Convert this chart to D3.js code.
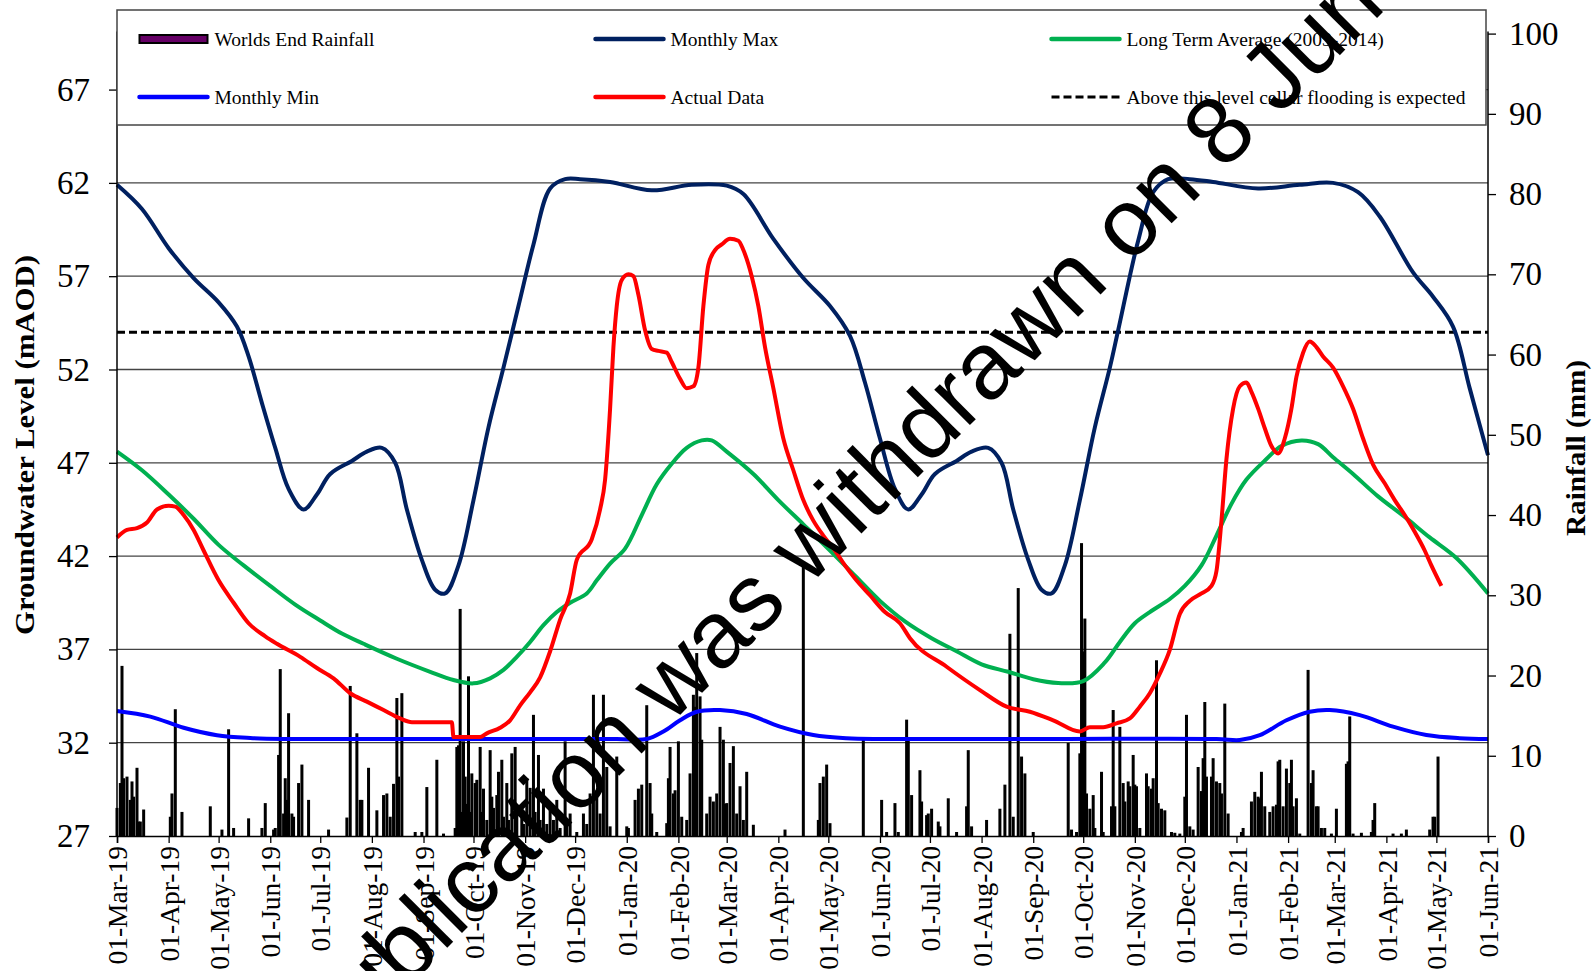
<!DOCTYPE html>
<html><head><meta charset="utf-8">
<script src="https://cdn.jsdelivr.net/npm/d3@7"></script>
<style>body{margin:0;background:#fff}svg{display:block}</style>
</head><body>
<svg id="c" width="1596" height="971"></svg>
<script>
// ---------- DATA ----------
const startDate = "2019-03-01";
const endDate = "2021-06-01";
const leftTicks = [27, 32, 37, 42, 47, 52, 57, 62, 67];
const rightTicks = [0, 10, 20, 30, 40, 50, 60, 70, 80, 90, 100];
const floodLevel = 54;

// days since 2019-03-01
const maxDay = [0,15,31,46,61,72,79,87,95,103,112,120,128,141,150,159,167,174,183,191,197,205,214,223,232,241,250,260,269,278,296,321,345,366,376,394,412,428,440,449,458,467,475,483,491,504,513,523,531,538,547,555,561,569,578,587,596,601,613,622,631,644,658,685,710,730,745,758,778,790,802,812,823];
const maxVal = [61.9,60.6,58.5,56.9,55.6,54.3,52.7,50.2,47.8,45.6,44.5,45.3,46.4,47.1,47.6,47.8,47.0,44.5,41.8,40.2,40.0,41.5,45.0,48.9,52.1,55.4,58.7,61.7,62.2,62.2,62.05,61.6,61.9,61.85,61.4,59.0,56.9,55.4,53.8,51.3,48.3,45.6,44.5,45.3,46.4,47.1,47.6,47.8,47.0,44.5,41.8,40.2,40.0,41.5,45.0,48.9,52.1,54.1,58.9,61.5,62.2,62.2,62.05,61.7,61.9,62.0,61.5,60.2,57.2,55.9,54.3,51.0,47.4];

const minDay = [0,20,40,60,80,100,200,300,318,328,338,348,362,378,398,418,438,460,560,660,674,686,702,716,728,746,766,786,806,823];
const minVal = [33.7,33.4,32.8,32.4,32.25,32.2,32.2,32.2,32.2,32.6,33.2,33.66,33.75,33.54,32.86,32.41,32.24,32.2,32.2,32.2,32.14,32.4,33.2,33.66,33.75,33.48,32.86,32.41,32.24,32.2];

const avgDay = [0,15,31,46,61,76,92,107,122,135,148,168,188,202,214,224,232,240,248,256,264,272,282,288,296,305,315,324,333,342,351,357,366,382,397,412,428,443,458,473,489,504,519,535,550,565,580,593,602,611,620,632,641,651,660,669,678,690,699,711,721,730,742,757,773,788,804,823];
const avgVal = [47.6,46.6,45.3,44.0,42.6,41.5,40.4,39.4,38.55,37.85,37.3,36.5,35.8,35.36,35.18,35.45,35.9,36.6,37.4,38.3,39.0,39.5,40.0,40.7,41.6,42.4,44.2,45.85,46.95,47.8,48.2,48.2,47.6,46.4,45.0,43.7,42.3,40.95,39.6,38.5,37.6,36.9,36.2,35.8,35.4,35.2,35.3,36.3,37.4,38.4,39.0,39.7,40.4,41.5,43.1,44.8,46.1,47.2,47.9,48.2,48.0,47.3,46.4,45.2,44.1,43.0,41.9,40.0];

const actDay = [0,6,12,18,24,31,35,40,46,52,61,70,79,89,96,110,120,130,140,150,160,170,177,201,202,218,222,230,236,242,248,254,260,266,272,276,285,290,293,296,298,300,303,307,310,313,317,321,325,330,333,338,342,346,349,352,355,359,363,368,373,376,381,385,389,394,400,406,412,418,424,431,437,443,452,461,470,476,498,518,534,548,562,578,584,592,600,608,614,620,626,632,638,644,651,657,660,663,666,670,674,678,681,685,689,693,697,701,705,708,712,716,720,724,730,736,742,748,754,761,767,773,779,785,789,795];
const actVal = [43.0,43.4,43.5,43.8,44.5,44.7,44.65,44.2,43.4,42.3,40.7,39.5,38.4,37.7,37.3,36.6,36.0,35.45,34.65,34.2,33.75,33.3,33.1,33.1,32.3,32.3,32.5,32.8,33.2,34.0,34.7,35.5,36.9,38.6,40.0,41.8,42.9,44.5,46.1,49.9,53.2,55.4,56.8,57.1,57.0,56.0,54.1,53.1,53.0,52.9,52.4,51.5,51.0,51.1,52.1,55.4,57.6,58.4,58.7,59.0,58.9,58.4,57.0,55.4,53.2,51.0,48.3,46.6,45.0,43.9,43.1,42.3,41.5,40.8,39.9,39.0,38.4,37.6,36.07,34.82,33.93,33.66,33.2,32.6,32.83,32.83,33.04,33.3,33.93,34.65,35.7,36.97,38.9,39.6,40.0,40.4,41.2,43.9,47.2,49.9,51.1,51.3,50.8,49.9,48.85,47.9,47.5,48.3,49.9,51.6,52.9,53.5,53.2,52.7,52.1,51.1,49.9,48.3,46.9,45.9,45.0,44.2,43.3,42.3,41.5,40.4];

const rainDay = [0,2,3,4,6,8,9,10,12,13,14,16,32,33,35,39,56,63,67,70,79,87,89,94,95,97,98,100,101,102,103,105,106,109,111,115,127,138,140,144,146,147,151,156,160,162,164,166,168,169,171,179,183,186,192,196,203,204,205,206,207,208,209,210,211,212,213,215,216,218,219,220,222,224,225,226,228,229,231,232,234,235,237,239,240,243,244,246,248,250,251,253,254,256,258,260,262,264,266,269,270,272,276,280,282,284,286,288,290,292,294,296,300,306,307,311,313,315,318,320,321,324,330,331,332,334,335,337,339,342,344,346,347,348,350,351,354,356,358,360,362,364,365,366,368,370,372,374,376,378,382,401,412,421,422,424,426,428,448,459,462,467,469,474,475,477,482,483,486,487,489,493,494,499,504,510,511,513,522,530,533,536,538,541,543,545,550,571,573,576,578,579,580,581,582,584,586,587,591,592,597,598,599,602,604,605,607,608,610,611,612,614,618,619,621,622,624,625,627,629,633,635,638,641,642,644,646,649,651,652,653,654,657,658,660,662,663,665,667,675,676,681,683,685,686,687,689,692,694,696,697,698,700,702,704,705,706,708,710,715,717,718,720,721,723,725,729,732,738,739,740,742,747,753,754,755,766,771,774,788,790,791,793];
const rainMm = [3.5,6.6,21.2,7.2,7.4,4.5,6.8,4.9,8.5,1.8,1.8,3.3,2.4,5.3,15.8,3.0,3.7,0.8,13.3,1.0,2.2,1.0,4.1,0.8,1.0,10.1,20.8,2.8,7.2,4.5,15.3,2.8,2.4,6.6,8.9,4.5,0.8,2.3,18.7,12.8,4.5,4.5,8.5,3.2,5.1,5.3,2.4,6.5,17.2,7.4,17.8,0.5,0.5,6.1,9.5,0.3,1.0,11.1,11.3,28.3,3.0,11.8,7.4,4.0,19.9,3.0,7.8,6.6,7.0,11.1,3.0,5.9,2.0,10.7,4.9,3.5,5.1,8.0,9.5,2.4,6.6,2.0,10.3,11.1,3.0,3.4,1.5,7.2,6.0,15.1,3.0,10.1,2.0,5.9,1.5,3.2,2.0,4.5,1.0,11.8,1.2,2.8,0.5,2.8,1.5,5.3,17.6,5.7,2.8,17.6,8.6,1.2,9.9,1.2,1.0,4.5,5.9,6.4,16.3,6.6,2.8,0.5,1.6,7.2,11.1,5.3,5.7,11.8,2.4,2.0,7.8,17.6,16.1,22.8,17.4,12.0,2.8,4.9,4.3,5.3,13.6,12.0,4.0,4.1,9.1,11.2,2.8,6.2,2.0,8.0,1.4,0.8,34.0,2.0,6.6,7.4,8.9,1.6,12.0,4.5,0.5,4.1,0.5,14.5,12.0,5.1,8.2,4.3,2.6,2.8,3.4,1.8,1.2,4.7,0.5,3.7,10.7,1.2,2.0,3.4,6.4,25.2,2.4,30.9,9.9,7.8,0.5,11.6,0.8,0.5,10.3,36.5,23.0,27.1,5.3,3.4,5.1,1.0,8.0,0.5,3.7,15.7,3.7,13.6,6.6,4.3,6.8,6.2,10.1,6.4,6.2,1.0,7.8,6.2,5.9,7.2,21.9,4.1,3.4,3.2,0.5,0.4,0.3,4.9,15.1,1.2,0.8,8.6,5.6,9.7,16.7,7.4,7.4,9.7,6.8,6.6,5.3,16.5,2.8,0.5,1.0,4.3,5.5,4.9,4.7,8.0,3.7,3.0,3.7,3.9,9.3,9.5,3.7,8.4,6.6,9.5,3.7,4.7,0.3,20.7,6.6,8.2,3.7,3.7,1.0,1.0,0.3,3.4,9.0,9.3,14.9,0.3,0.4,0.5,2.0,4.1,0.3,0.3,0.8,0.8,2.4,2.4,9.9];

const legendItems = [
  {label: "Worlds End Rainfall", type: "bar", color: "#660066"},
  {label: "Monthly Max", type: "line", color: "#002060"},
  {label: "Long Term Average (2003-2014)", type: "line", color: "#00B050"},
  {label: "Monthly Min", type: "line", color: "#0000FF"},
  {label: "Actual Data", type: "line", color: "#FF0000"},
  {label: "Above this level cellar flooding is expected", type: "dash", color: "#000000"}
];
const watermark = "This publication was withdrawn on 8 June 2023";

// ---------- CHART ----------
const svg = d3.select("#c");
const L = 117, R = 1488, T = 33.6, B = 836;
const serif = "'Liberation Serif','Times New Roman',serif";
const t0 = new Date(startDate + "T00:00:00Z");
const toDate = d => new Date(t0.getTime() + d * 864e5);

const x = d3.scaleUtc().domain([t0, new Date(endDate + "T00:00:00Z")]).range([L, R]);
const yL = d3.scaleLinear().domain([27, 70]).range([B, T]);
const yR = d3.scaleLinear().domain([0, 100]).range([B, T]);

svg.append("rect").attr("width", 1596).attr("height", 971).attr("fill", "#fff");

// gridlines
svg.append("g").selectAll("line").data(leftTicks.slice(1)).join("line")
  .attr("x1", L).attr("x2", R).attr("y1", d => yL(d)).attr("y2", d => yL(d))
  .attr("stroke", "#444").attr("stroke-width", 1.3);

// rainfall bars
const rain = rainDay.map((d, i) => ({date: toDate(d), mm: rainMm[i]}));
svg.append("g").selectAll("rect").data(rain).join("rect")
  .attr("x", d => x(d.date) - 1.5).attr("width", 3)
  .attr("y", d => yR(d.mm)).attr("height", d => B - yR(d.mm))
  .attr("fill", "#000");

// lines
function series(days, vals) { return days.map((d, i) => ({date: toDate(d), v: vals[i]})); }
const lineSmooth = d3.line().x(d => x(d.date)).y(d => yL(d.v)).curve(d3.curveCatmullRom.alpha(0.5));
const lineMono = d3.line().x(d => x(d.date)).y(d => yL(d.v)).curve(d3.curveMonotoneX);

svg.append("line").attr("x1", L).attr("x2", R).attr("y1", yL(floodLevel)).attr("y2", yL(floodLevel))
  .attr("stroke", "#000").attr("stroke-width", 3).attr("stroke-dasharray", "8,4");

svg.append("path").datum(series(avgDay, avgVal)).attr("d", lineSmooth)
  .attr("fill", "none").attr("stroke", "#00B050").attr("stroke-width", 4);
svg.append("path").datum(series(minDay, minVal)).attr("d", lineSmooth)
  .attr("fill", "none").attr("stroke", "#0000FF").attr("stroke-width", 4);
svg.append("path").datum(series(maxDay, maxVal)).attr("d", lineSmooth)
  .attr("fill", "none").attr("stroke", "#002060").attr("stroke-width", 4);
svg.append("path").datum(series(actDay, actVal)).attr("d", lineMono)
  .attr("fill", "none").attr("stroke", "#FF0000").attr("stroke-width", 4).attr("stroke-linejoin", "round");

// axes
const ax = svg.append("g").attr("transform", `translate(0,${B})`)
  .call(d3.axisBottom(x).tickValues(d3.utcMonth.range(t0, new Date(Date.UTC(2021, 5, 2))))
    .tickSize(7).tickFormat(d3.utcFormat("%d-%b-%y")));
ax.select(".domain").attr("stroke", "#000").attr("stroke-width", 1.5);
ax.selectAll(".tick line").attr("stroke", "#000").attr("stroke-width", 1.3);
ax.selectAll("text").attr("font-family", serif).attr("font-size", 27.5).attr("fill", "#000")
  .attr("text-anchor", "end").attr("transform", "translate(0,10) rotate(-90)")
  .attr("x", 0).attr("y", 0).attr("dy", "0.35em");

const al = svg.append("g").attr("transform", `translate(${L},0)`)
  .call(d3.axisLeft(yL).tickValues(leftTicks).tickSize(8).tickPadding(19));
al.select(".domain").attr("stroke", "#000").attr("stroke-width", 1.5).attr("d", `M-0,${B}V${T-2}`);
al.selectAll(".tick line").attr("stroke", "#000").attr("stroke-width", 1.3);
al.selectAll("text").attr("font-family", serif).attr("font-size", 33).attr("fill", "#000");

const ar = svg.append("g").attr("transform", `translate(${R},0)`)
  .call(d3.axisRight(yR).tickValues(rightTicks).tickSize(8).tickPadding(13));
ar.select(".domain").attr("stroke", "#000").attr("stroke-width", 1.5).attr("d", `M0,${B}V${T-2}`);
ar.selectAll(".tick line").attr("stroke", "#000").attr("stroke-width", 1.3);
ar.selectAll("text").attr("font-family", serif).attr("font-size", 33).attr("fill", "#000");

// axis titles
svg.append("text").attr("transform", "translate(34,445) rotate(-90)")
  .attr("text-anchor", "middle").attr("font-family", serif).attr("font-weight", "bold")
  .attr("font-size", 28).attr("textLength", 380).attr("lengthAdjust", "spacingAndGlyphs")
  .text("Groundwater Level (mAOD)");
svg.append("text").attr("transform", "translate(1585,448) rotate(-90)")
  .attr("text-anchor", "middle").attr("font-family", serif).attr("font-weight", "bold")
  .attr("font-size", 28).attr("textLength", 176).attr("lengthAdjust", "spacingAndGlyphs")
  .text("Rainfall (mm)");

// legend
const lg = svg.append("g");
lg.append("rect").attr("x", 117).attr("y", 10).attr("width", 1369).attr("height", 115)
  .attr("fill", "#fff").attr("stroke", "#444").attr("stroke-width", 1.5);
const colX = [139.5, 595.5, 1051.5];
const rowY = [39, 97];
legendItems.forEach((it, i) => {
  const cx = colX[i % 3], cy = rowY[Math.floor(i / 3)];
  if (it.type === "bar") {
    lg.append("rect").attr("x", cx).attr("y", cy - 4).attr("width", 68).attr("height", 8)
      .attr("fill", it.color).attr("stroke", "#000").attr("stroke-width", 2);
  } else {
    lg.append("line").attr("x1", cx).attr("x2", cx + 68).attr("y1", cy).attr("y2", cy)
      .attr("stroke", it.color).attr("stroke-width", it.type === "dash" ? 3 : 4.5)
      .attr("stroke-linecap", it.type === "dash" ? "butt" : "round")
      .attr("stroke-dasharray", it.type === "dash" ? "8,4" : null);
  }
  lg.append("text").attr("x", cx + 75).attr("y", cy).attr("dy", "0.35em")
    .attr("font-family", serif).attr("font-size", 19.5).attr("fill", "#000").text(it.label);
});

// watermark
svg.append("text").attr("transform", "translate(185,1210) rotate(-45)")
  .attr("font-family", "'Liberation Sans',Arial,sans-serif").attr("font-size", 95)
  .attr("fill", "#000").text(watermark);
</script>
</body></html>
